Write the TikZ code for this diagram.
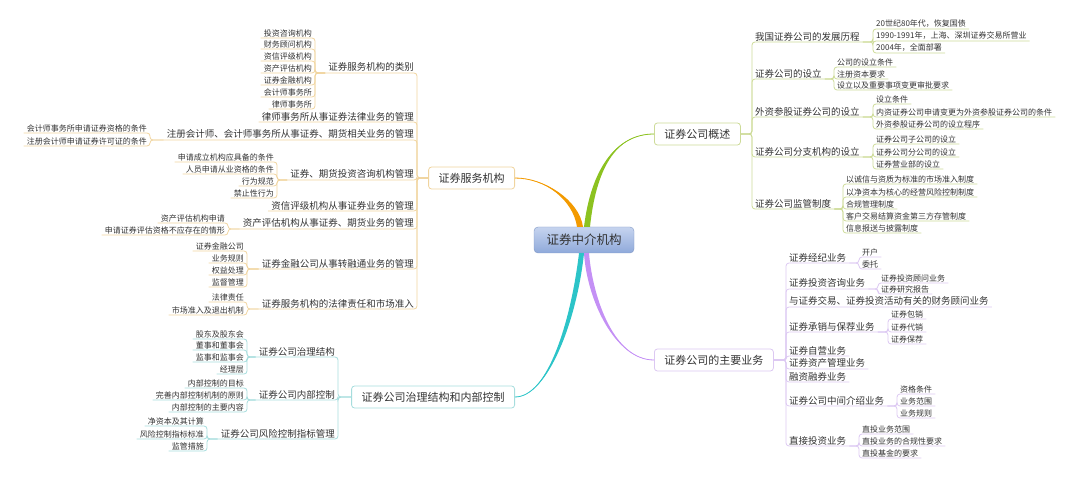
\documentclass[tikz,border=0pt]{standalone}
\usepackage{fontspec}
\setmainfont{Noto Sans CJK SC}
\usetikzlibrary{calc}

\definecolor{txt}{HTML}{333333}
\definecolor{cgreen}{HTML}{8CC220}
\definecolor{lgreen}{HTML}{CDDB98}
\definecolor{corange}{HTML}{F39A00}
\definecolor{lorange}{HTML}{F0D49E}
\definecolor{cteal}{HTML}{2CC4C8}
\definecolor{lteal}{HTML}{A6DDDD}
\definecolor{cpurple}{HTML}{C490F5}
\definecolor{lpurple}{HTML}{DCC8F2}
\definecolor{rtop}{HTML}{C6D4EF}
\definecolor{rbot}{HTML}{8FA9DA}

\begin{document}
\begin{tikzpicture}[x=1pt, y=-1pt,
  every node/.style={text=txt, inner xsep=3pt, inner ysep=1pt},
  sub/.style={font=\fontsize{9.5}{10}\selectfont},
  leaf/.style={font=\fontsize{8}{9}\selectfont},
  topic/.style={draw=#1, fill=white, rounded corners=3pt, line width=0.8pt,
    inner xsep=10pt, minimum height=22pt, font=\fontsize{11}{12}\selectfont},
  link/.style={draw=#1, line width=0.8pt, rounded corners=3pt},
]
\useasboundingbox (0,0) rectangle (1080,481);

% centre and the four topics
\node[draw=rbot!90!black, top color=rtop, bottom color=rbot, rounded corners=4pt,
  minimum width=100pt, minimum height=26pt, inner xsep=12pt,
  font=\fontsize{12.5}{13}\selectfont] (root) at (584,240) {证券中介机构};
\node[topic=lgreen, anchor=west] (sum) at (654,134) {证券公司概述};
\node[topic=lorange, anchor=east] (svc) at (515,178) {证券服务机构};
\node[topic=lteal, anchor=east] (gov) at (515,397) {证券公司治理结构和内部控制};
\node[topic=lpurple, anchor=west] (biz) at (654,360) {证券公司的主要业务};

% trunks
\fill[cgreen] ($(root.north)+(0,0)$) .. controls (591,170) and (615,134) .. (sum.west)
  .. controls (615,134) and (596,170) .. ($(root.north)+(6,0)$) -- cycle;
\draw[cgreen, line width=0.8pt] ($(root.north)+(3,0)$) .. controls (593,170) and (615,134) .. (sum.west);
\fill[corange] ($(root.north)+(-7,0)$) .. controls (573,200) and (545,178) .. (svc.east)
  .. controls (545,178) and (579,200) .. ($(root.north)+(-1,0)$) -- cycle;
\draw[corange, line width=0.8pt] ($(root.north)+(-4,0)$) .. controls (576,200) and (545,178) .. (svc.east);
\fill[cteal] ($(root.south)+(-5,0)$) .. controls (571,320) and (548,397) .. (gov.east)
  .. controls (548,397) and (577,320) .. ($(root.south)+(0,0)$) -- cycle;
\draw[cteal, line width=0.8pt] ($(root.south)+(-2,0)$) .. controls (574,320) and (548,397) .. (gov.east);
\fill[cpurple] ($(root.south)+(0,0)$) .. controls (587,300) and (615,360) .. (biz.west)
  .. controls (615,360) and (593,300) .. ($(root.south)+(5,0)$) -- cycle;
\draw[cpurple, line width=0.8pt] ($(root.south)+(2,0)$) .. controls (590,300) and (615,360) .. (biz.west);

% 证券公司概述
\foreach \i/\yy/\lab in {1/42/我国证券公司的发展历程, 2/79/证券公司的设立,
    3/117/外资参股证券公司的设立, 4/157/证券公司分支机构的设立, 5/209/证券公司监管制度}{
  \node[sub, anchor=south west] (sum\i) at (752,\yy) {\lab};
  \draw[link=lgreen] (sum.east) -| (sum\i.south west) -- (sum\i.south east);
}
\foreach \i/\yy/\lab in {a/29/20世纪80年代，恢复国债, b/41/1990-1991年，上海、深圳证券交易所营业,
    c/53/2004年，全面部署}{
  \node[leaf, anchor=south west] (sum1\i) at (873,\yy) {\lab};
  \draw[link=lgreen] (sum1.south east) -| (sum1\i.south west) -- (sum1\i.south east);
}
\foreach \i/\yy/\lab in {a/67/公司的设立条件, b/79/注册资本要求, c/90/设立以及重要事项变更审批要求}{
  \node[leaf, anchor=south west] (sum2\i) at (834,\yy) {\lab};
  \draw[link=lgreen] (sum2.south east) -| (sum2\i.south west) -- (sum2\i.south east);
}
\foreach \i/\yy/\lab in {a/104/设立条件, b/117/内资证券公司申请变更为外资参股证券公司的条件,
    c/129/外资参股证券公司的设立程序}{
  \node[leaf, anchor=south west] (sum3\i) at (873,\yy) {\lab};
  \draw[link=lgreen] (sum3.south east) -| (sum3\i.south west) -- (sum3\i.south east);
}
\foreach \i/\yy/\lab in {a/144/证券公司子公司的设立, b/157/证券公司分公司的设立, c/169/证券营业部的设立}{
  \node[leaf, anchor=south west] (sum4\i) at (873,\yy) {\lab};
  \draw[link=lgreen] (sum4.south east) -| (sum4\i.south west) -- (sum4\i.south east);
}
\foreach \i/\yy/\lab in {a/184/以诚信与资质为标准的市场准入制度, b/197/以净资本为核心的经营风险控制制度,
    c/209/合规管理制度, d/221/客户交易结算资金第三方存管制度, e/233/信息报送与披露制度}{
  \node[leaf, anchor=south west] (sum5\i) at (843,\yy) {\lab};
  \draw[link=lgreen] (sum5.south east) -| (sum5\i.south west) -- (sum5\i.south east);
}

% 证券公司的主要业务
\foreach \i/\yy/\lab in {1/263/证券经纪业务, 2/289/证券投资咨询业务,
    3/307/与证券交易、证券投资活动有关的财务顾问业务, 4/332/证券承销与保荐业务,
    5/356/证券自营业务, 6/369/证券资产管理业务, 7/382/融资融券业务,
    8/406/证券公司中间介绍业务, 9/446/直接投资业务}{
  \node[sub, anchor=south west] (biz\i) at (786,\yy) {\lab};
  \draw[link=lpurple] (biz.east) -| (biz\i.south west) -- (biz\i.south east);
}
\foreach \i/\yy/\lab in {a/257/开户, b/269/委托}{
  \node[leaf, anchor=south west] (biz1\i) at (859,\yy) {\lab};
  \draw[link=lpurple] (biz1.south east) -| (biz1\i.south west) -- (biz1\i.south east);
}
\foreach \i/\yy/\lab in {a/283/证券投资顾问业务, b/294/证券研究报告}{
  \node[leaf, anchor=south west] (biz2\i) at (878,\yy) {\lab};
  \draw[link=lpurple] (biz2.south east) -| (biz2\i.south west) -- (biz2\i.south east);
}
\foreach \i/\yy/\lab in {a/319/证券包销, b/332/证券代销, c/344/证券保荐}{
  \node[leaf, anchor=south west] (biz4\i) at (888,\yy) {\lab};
  \draw[link=lpurple] (biz4.south east) -| (biz4\i.south west) -- (biz4\i.south east);
}
\foreach \i/\yy/\lab in {a/394/资格条件, b/406/业务范围, c/418/业务规则}{
  \node[leaf, anchor=south west] (biz8\i) at (897,\yy) {\lab};
  \draw[link=lpurple] (biz8.south east) -| (biz8\i.south west) -- (biz8\i.south east);
}
\foreach \i/\yy/\lab in {a/434/直投业务范围, b/446/直投业务的合规性要求, c/458/直投基金的要求}{
  \node[leaf, anchor=south west] (biz9\i) at (859,\yy) {\lab};
  \draw[link=lpurple] (biz9.south east) -| (biz9\i.south west) -- (biz9\i.south east);
}

% 证券服务机构
\foreach \i/\yy/\lab in {1/73/证券服务机构的类别, 2/122/律师事务所从事证券法律业务的管理,
    3/140/注册会计师、会计师事务所从事证券、期货相关业务的管理, 4/180/证券、期货投资咨询机构管理,
    5/211/资信评级机构从事证券业务的管理, 6/229/资产评估机构从事证券、期货业务的管理,
    7/269/证券金融公司从事转融通业务的管理, 8/309/证券服务机构的法律责任和市场准入}{
  \node[sub, anchor=south east] (svc\i) at (417,\yy) {\lab};
  \draw[link=lorange] (svc.west) -| (svc\i.south east) -- (svc\i.south west);
}
\foreach \i/\yy/\lab in {a/38/投资咨询机构, b/49/财务顾问机构, c/61/资信评级机构, d/73/资产评估机构,
    e/85/证券金融机构, f/97/会计师事务所, g/109/律师事务所}{
  \node[leaf, anchor=south east] (svc1\i) at (315,\yy) {\lab};
  \draw[link=lorange] (svc1.south west) -| (svc1\i.south east) -- (svc1\i.south west);
}
\foreach \i/\yy/\lab in {a/133/会计师事务所申请证券资格的条件, b/146/注册会计师申请证券许可证的条件}{
  \node[leaf, anchor=south east] (svc3\i) at (150,\yy) {\lab};
  \draw[link=lorange] (svc3.south west) -| (svc3\i.south east) -- (svc3\i.south west);
}
\foreach \i/\yy/\lab in {a/162/申请成立机构应具备的条件, b/174/人员申请从业资格的条件, c/186/行为规范,
    d/198/禁止性行为}{
  \node[leaf, anchor=south east] (svc4\i) at (277,\yy) {\lab};
  \draw[link=lorange] (svc4.south west) -| (svc4\i.south east) -- (svc4\i.south west);
}
\foreach \i/\yy/\lab in {a/223/资产评估机构申请, b/235/申请证券评估资格不应存在的情形}{
  \node[leaf, anchor=south east] (svc6\i) at (228,\yy) {\lab};
  \draw[link=lorange] (svc6.south west) -| (svc6\i.south east) -- (svc6\i.south west);
}
\foreach \i/\yy/\lab in {a/251/证券金融公司, b/263/业务规则, c/275/权益处理, d/287/监督管理}{
  \node[leaf, anchor=south east] (svc7\i) at (247,\yy) {\lab};
  \draw[link=lorange] (svc7.south west) -| (svc7\i.south east) -- (svc7\i.south west);
}
\foreach \i/\yy/\lab in {a/302/法律责任, b/315/市场准入及退出机制}{
  \node[leaf, anchor=south east] (svc8\i) at (247,\yy) {\lab};
  \draw[link=lorange] (svc8.south west) -| (svc8\i.south east) -- (svc8\i.south west);
}

% 证券公司治理结构和内部控制
\foreach \i/\yy/\lab in {1/357/证券公司治理结构, 2/400/证券公司内部控制, 3/439/证券公司风险控制指标管理}{
  \node[sub, anchor=south east] (gov\i) at (338,\yy) {\lab};
  \draw[link=lteal] (gov.west) -| (gov\i.south east) -- (gov\i.south west);
}
\foreach \i/\yy/\lab in {a/339/股东及股东会, b/350/董事和董事会, c/362/监事和监事会, d/374/经理层}{
  \node[leaf, anchor=south east] (gov1\i) at (247,\yy) {\lab};
  \draw[link=lteal] (gov1.south west) -| (gov1\i.south east) -- (gov1\i.south west);
}
\foreach \i/\yy/\lab in {a/388/内部控制的目标, b/400/完善内部控制机制的原则, c/412/内部控制的主要内容}{
  \node[leaf, anchor=south east] (gov2\i) at (247,\yy) {\lab};
  \draw[link=lteal] (gov2.south west) -| (gov2\i.south east) -- (gov2\i.south west);
}
\foreach \i/\yy/\lab in {a/426/净资本及其计算, b/439/风险控制指标标准, c/451/监管措施}{
  \node[leaf, anchor=south east] (gov3\i) at (207,\yy) {\lab};
  \draw[link=lteal] (gov3.south west) -| (gov3\i.south east) -- (gov3\i.south west);
}
\end{tikzpicture}
\end{document}
